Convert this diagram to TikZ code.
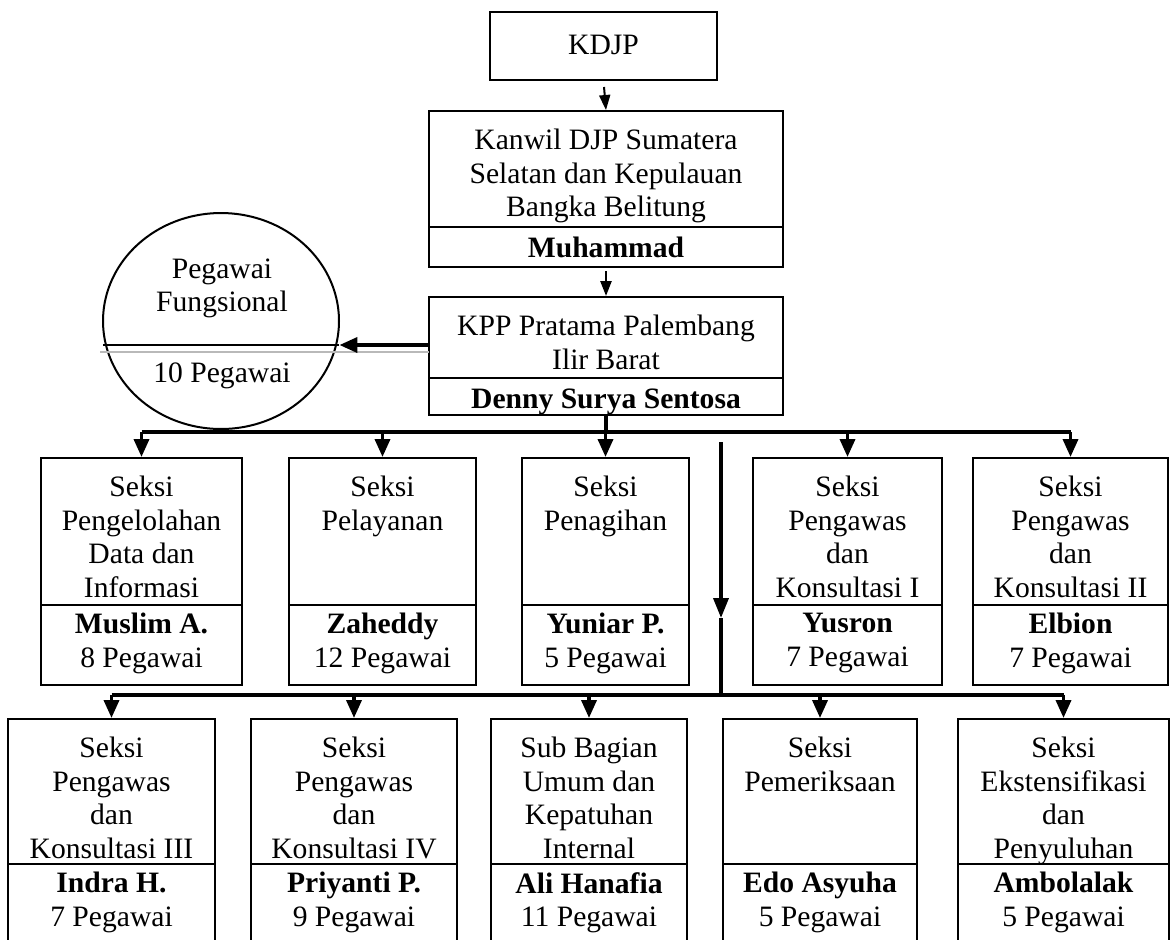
\documentclass[tikz,border=0pt]{standalone}
\usepackage{fontspec}
\setmainfont{Liberation Serif}
\usetikzlibrary{arrows.meta,fit,shapes.geometric}
\tikzset{
  box/.style={draw, line width=1pt, inner sep=0pt, rectangle},
  boxline/.style={line width=1pt},
  ttext/.style={align=center, inner sep=0pt, font=\fontsize{14.8}{16.7}\selectfont,
    execute at begin node={\rule{0pt}{11pt}}},
  conn/.style={line width=1.8pt},
  tipbig/.style={-{Triangle[width=7.5pt,length=9pt]}},
  tipsmall/.style={-{Triangle[width=5.5pt,length=7.5pt]}},
}
\newcommand{\orgbox}[8]{%
  \node[box, fit={(#2,#3) (#4,#5)}] (#1) {};
  \draw[boxline] (#2,#6) -- (#4,#6);
  \node[ttext, anchor=north] (#1-t) at ({(#2+#4)/2},{#3+18}) {#7};
  \node[ttext, anchor=north] (#1-b) at ({(#2+#4)/2},{#6+8}) {#8};
}
\begin{document}
\begin{tikzpicture}[x=0.5pt,y=-0.5pt]
\fill[white] (0,0) rectangle (1171,939);
\useasboundingbox (0,0) rectangle (1171,939);

% top
\node[box, fit={(490,12) (717,80)}] (kdjp) {};
\node[ttext] (kdjp-t) at (603.5,44) {KDJP};
\orgbox{kanwil}{429}{111}{783}{267}{227}{Kanwil DJP Sumatera\\Selatan dan Kepulauan\\Bangka Belitung}{\textbf{Muhammad}}
\orgbox{kpp}{429}{297}{783}{415}{378}{KPP Pratama Palembang\\Ilir Barat}{\textbf{Denny Surya Sentosa}}

% functional staff
\node[inner sep=0pt, fit={(103,213) (339,429)}] (fung) {};
\draw[line width=1pt] plot[domain=0:360, samples=90, smooth cycle, variable=\t] ({221+118*cos(\t)},{321+108*sin(\t)});
\coordinate (fdiv) at (221,345);
\draw[boxline] (103,345) -- (fung.east |- fdiv);
\draw[gray!55, line width=0.6pt] (100,352) -- (429,352);
\node[ttext, anchor=north] (fung-t) at (222,258) {Pegawai\\Fungsional};
\node[ttext, anchor=north] (fung-b) at (222,360) {10 Pegawai};

% row 1
\orgbox{b11}{41}{458}{242}{685}{605}{Seksi\\Pengelolahan\\Data dan\\Informasi}{\textbf{Muslim A.}\\8 Pegawai}
\orgbox{b12}{289}{458}{476}{685}{605}{Seksi\\Pelayanan}{\textbf{Zaheddy}\\12 Pegawai}
\orgbox{b13}{522}{458}{689}{685}{605}{Seksi\\Penagihan}{\textbf{Yuniar P.}\\5 Pegawai}
\orgbox{b14}{753}{458}{942}{685}{605}{Seksi\\Pengawas\\dan\\Konsultasi I}{\textbf{Yusron}\\7 Pegawai}
\orgbox{b15}{973}{458}{1168}{685}{605}{Seksi\\Pengawas\\dan\\Konsultasi II}{\textbf{Elbion}\\7 Pegawai}

% row 2
\orgbox{b21}{8}{719}{215}{946}{864}{Seksi\\Pengawas\\dan\\Konsultasi III}{\textbf{Indra H.}\\7 Pegawai}
\orgbox{b22}{251}{719}{457}{946}{864}{Seksi\\Pengawas\\dan\\Konsultasi IV}{\textbf{Priyanti P.}\\9 Pegawai}
\orgbox{b23}{491}{719}{687}{946}{864}{Sub Bagian\\Umum dan\\Kepatuhan\\Internal}{\textbf{Ali Hanafia}\\11 Pegawai}
\orgbox{b24}{723}{719}{917}{946}{864}{Seksi\\Pemeriksaan}{\textbf{Edo Asyuha}\\5 Pegawai}
\orgbox{b25}{958}{719}{1169}{946}{864}{Seksi\\Ekstensifikasi\\dan\\Penyuluhan}{\textbf{Ambolalak}\\5 Pegawai}

% connectors
\draw[line width=1pt, tipsmall, shorten <=3pt] (kdjp.south) -- (kanwil.north);
\draw[line width=1.2pt, tipsmall, shorten <=1.5pt] (kanwil.south) -- (kpp.north);
\draw[conn, tipbig] (kpp.west |- fdiv) -- (fung.east |- fdiv);

\coordinate (bus1) at (0,432);
\coordinate (bus2) at (0,695);
\draw[conn] (kpp.south) -- (kpp.south |- bus1);
\draw[conn] (b11.north |- bus1) -- (b15.north |- bus1);
\foreach \b in {b11,b12,b13,b14,b15}
  \draw[conn, tipbig] (\b.north |- bus1) -- (\b.north);

\coordinate (vtop) at (721,442);
\coordinate (vmid) at (721,618);
\draw[conn, -{Triangle[width=7.5pt,length=10pt]}] (vtop) -- (vmid);
\draw[conn] (vmid) -- (vmid |- bus2);

\draw[conn] (b21.north |- bus2) -- (b25.north |- bus2);
\foreach \b in {b21,b22,b23,b24,b25}
  \draw[conn, tipbig] (\b.north |- bus2) -- (\b.north);
\end{tikzpicture}
\end{document}
